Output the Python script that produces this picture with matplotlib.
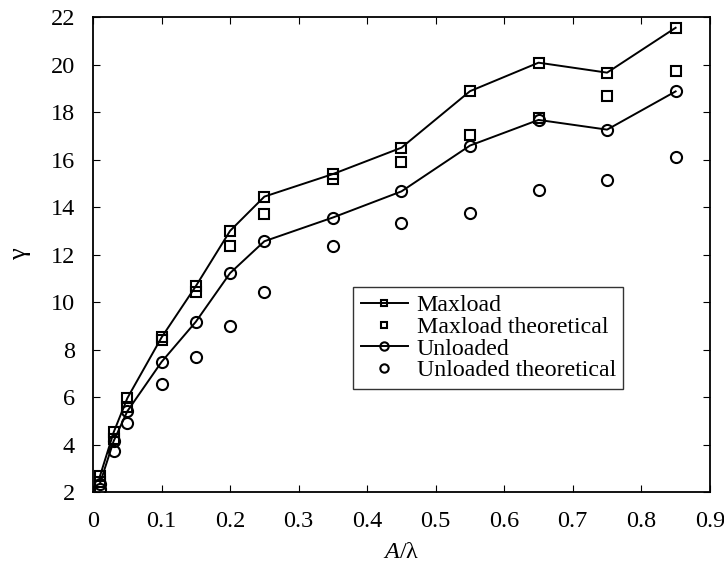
import matplotlib
matplotlib.use("Agg")
import matplotlib.pyplot as plt

x = [0.01, 0.03, 0.05, 0.1, 0.15, 0.2, 0.25, 0.35, 0.45, 0.55, 0.65, 0.75, 0.85]
maxload = [2.66, 4.51, 5.95, 8.51, 10.67, 13.0, 14.44, 15.39, 16.5, 18.88, 20.08, 19.66, 21.55]
maxload_theo = [2.42, 4.25, 5.59, 8.41, 10.43, 12.36, 13.72, 15.18, 15.88, 17.05, 17.74, 18.66, 19.75]
unloaded = [2.35, 4.14, 5.40, 7.48, 9.17, 11.22, 12.56, 13.56, 14.66, 16.59, 17.67, 17.26, 18.87]
unloaded_theo = [2.14, 3.72, 4.92, 6.54, 7.67, 9.0, 10.43, 12.35, 13.32, 13.77, 14.71, 15.14, 16.09]

xticks = [0, 0.1, 0.2, 0.3, 0.4, 0.5, 0.6, 0.7, 0.8, 0.9]
xticklabels = ["0", "0.1", "0.2", "0.3", "0.4", "0.5", "0.6", "0.7", "0.8", "0.9"]
yticks = list(range(2, 23, 2))

plt.rcParams['font.family'] = ['Liberation Serif', 'DejaVu Serif']
plt.rcParams['mathtext.fontset'] = 'custom'
plt.rcParams['mathtext.rm'] = 'Liberation Serif'
plt.rcParams['mathtext.it'] = 'Liberation Serif:italic'

fig = plt.figure(figsize=(7.24, 5.75), dpi=100)
ax = fig.add_axes([0.1285, 0.1443, 0.852, 0.826])

ax.plot(x, maxload, '-', color='black', lw=1.4, marker='s', ms=6.5, mfc='none', mec='black', mew=1.5, label='Maxload')
ax.plot(x, maxload_theo, marker='s', ms=6.5, mfc='none', mec='black', mew=1.5, linestyle='none', label='Maxload theoretical')
ax.plot(x, unloaded, '-', color='black', lw=1.4, marker='o', ms=8, mfc='none', mec='black', mew=1.5, label='Unloaded')
ax.plot(x, unloaded_theo, marker='o', ms=8, mfc='none', mec='black', mew=1.5, linestyle='none', label='Unloaded theoretical')

ax.set_xlim(0, 0.9)
ax.set_ylim(2, 22)
ax.set_xticks(xticks)
ax.set_xticklabels(xticklabels)
ax.set_yticks(yticks)
ax.tick_params(direction='in', top=True, right=True, labelsize=17.5, length=5, width=0.8)
ax.tick_params(axis='x', pad=14)
ax.tick_params(axis='y', pad=13)
for s in ax.spines.values():
    s.set_linewidth(1.3)

ax.set_xlabel(r'$\mathit{A}$/λ', fontsize=17.5, labelpad=7)
ax.set_ylabel('γ', fontsize=19, labelpad=14)

leg = ax.legend(loc='upper left', bbox_to_anchor=(0.422, 0.431), fontsize=17.2, frameon=True,
                fancybox=False, edgecolor='black', borderpad=0.3, labelspacing=0.0,
                handlelength=2.0, handletextpad=0.35, markerscale=0.75, borderaxespad=0.0)
leg.get_frame().set_linewidth(1.0)

fig.savefig('out.png', dpi=100)
